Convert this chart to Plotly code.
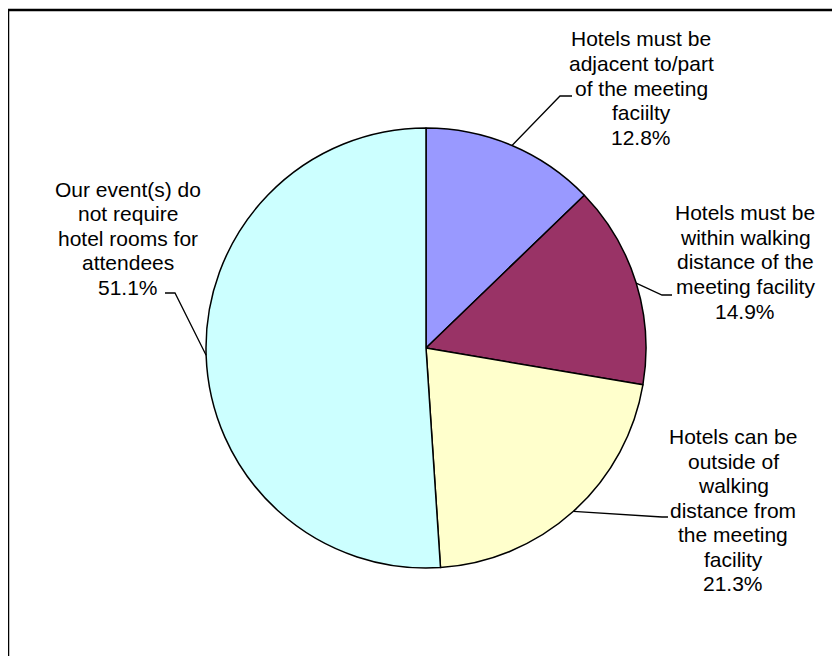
import numpy as np
import plotly.graph_objects as go

# data
labels = [
    ["Hotels must be", "adjacent to/part", "of the meeting", "faciilty"],
    ["Hotels must be", "within walking", "distance of the", "meeting facility"],
    ["Hotels can be", "outside of", "walking", "distance from", "the meeting", "facility"],
    ["Our event(s) do", "not require", "hotel rooms for", "attendees"],
]
values = [12.8, 14.9, 21.3, 51.1]
colors = ["#9999FF", "#993366", "#FFFFCC", "#CCFFFF"]

# page has an 8px body margin, so work in page pixels and shift
OFF = 8
W, H = 840 - OFF, 656 - OFF
cx, cy, r = 426, 348, 220

# label centre (page px) and elbow / text-attach points (page px)
label_pos = [(641, 88), (745, 262), (733, 510), (128, 238)]
elbows = [((560, 96), (572, 96)), ((662, 295), (672, 295)),
          ((662, 517), (668, 517)), ((175, 293), (165, 293))]
line_gap = 24.5


def px(x, y):
    return (x - OFF) / W, 1 - (y - OFF) / H


fig = go.Figure()
x0, y0 = px(cx - r, cy + r)
x1, y1 = px(cx + r, cy - r)
fig.add_trace(go.Pie(
    labels=[" ".join(l) for l in labels], values=values, sort=False,
    direction="clockwise", rotation=0,
    marker=dict(colors=colors, line=dict(color="black", width=1.5)),
    textinfo="none", hoverinfo="label+percent", showlegend=False,
    domain=dict(x=[x0, x1], y=[y0, y1]),
))

shapes = []
total = sum(values)
cum = np.cumsum([0] + values[:-1])
for i, v in enumerate(values):
    ang = np.deg2rad((cum[i] + v / 2) / total * 360)
    ex, ey = cx + r * np.sin(ang), cy - r * np.cos(ang)
    (bx, by), (tx, ty) = elbows[i]
    pts = px(ex, ey) + px(bx, by) + px(tx, ty)
    shapes.append(dict(type="path", xref="paper", yref="paper",
                       path="M %f,%f L %f,%f L %f,%f" % pts,
                       line=dict(color="black", width=1.3)))

annotations = []
for i, (lx, ly) in enumerate(label_pos):
    lines = labels[i] + ["%.1f%%" % values[i]]
    n = len(lines)
    for k, t in enumerate(lines):
        x, y = px(lx, ly + (k - (n - 1) / 2) * line_gap)
        annotations.append(dict(
            x=x, y=y, xref="paper", yref="paper", showarrow=False, text=t,
            font=dict(family="Liberation Sans, Arial", size=21, color="black"),
            xanchor="center", yanchor="middle"))

# chart frame (left and top edges visible)
shapes.append(dict(type="path", xref="paper", yref="paper",
                   path="M %f,%f L %f,%f L %f,%f" % (px(8, 700) + px(8, 10) + px(900, 10)),
                   line=dict(color="black", width=2.5)))

fig.update_layout(
    width=W, height=H, margin=dict(l=0, r=0, t=0, b=0),
    paper_bgcolor="white", plot_bgcolor="white",
    shapes=shapes, annotations=annotations,
)

fig.write_html("out.html")
